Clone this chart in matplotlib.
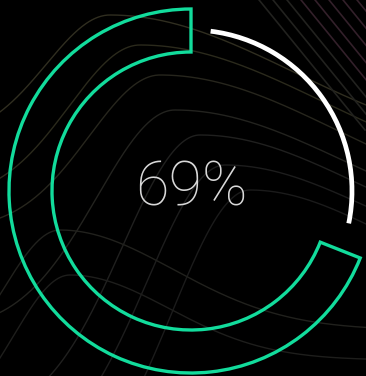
import numpy as np
import matplotlib.pyplot as plt
from matplotlib.patches import Wedge, Arc

# gauge value (percent)
value = 69
label = f"{value}%"

W, H = 366, 376
cx, cy = 191, H - 191
r_out, r_in = 182, 139
r_track = 161

fig = plt.figure(figsize=(W / 100, H / 100), dpi=100, facecolor="black")
ax = fig.add_axes([0, 0, 1, 1])
ax.set_facecolor("black")
ax.set_xlim(0, W)
ax.set_ylim(0, H)
ax.set_aspect("equal")
ax.axis("off")


def hump(x, base_l, base_r, peak_x, peak_y, s_l, s_r):
    # skewed hill in image coordinates (y grows downwards)
    left = base_l + (peak_y - base_l) * np.exp(-((x - peak_x) / s_l) ** 2)
    right = base_r + (peak_y - base_r) * np.exp(-((x - peak_x) / s_r) ** 2)
    return np.where(x < peak_x, left, right)


# faint flowing lines in the background
xs = np.linspace(-10, W + 10, 500)
bg_lines = [
    (140, 160, 110, 15, 90, 260, "#302e20"),
    (200, 190, 140, 45, 100, 260, "#2b2a1c"),
    (230, 215, 160, 75, 100, 250, "#27261d"),
    (330, 240, 175, 110, 110, 240, "#23231f"),
    (420, 255, 200, 135, 110, 220, "#20201f"),
    (460, 270, 225, 165, 110, 200, "#1d1d1d"),
    (500, 290, 250, 190, 110, 180, "#1b1b1b"),
    (380, 330, 60, 230, 80, 160, "#21211d"),
    (430, 360, 70, 275, 80, 140, "#1e1e1c"),
]
for base_l, base_r, px, py, sl, sr, col in bg_lines:
    yi = hump(xs, base_l, base_r, px, py, sl, sr)
    ax.plot(xs, H - yi, color=col, lw=1.0, zorder=0)
for k in range(8):
    x0 = 255 + k * 14
    ax.plot([x0, x0 + 110], [H + 5, H - 130],
            color="#33202a" if k > 2 else "#22221f", lw=1.2, zorder=0)

# filled portion drawn as an outlined ring segment
theta_end = 90 + value / 100 * 360
ax.add_patch(Wedge((cx, cy), r_out, 90, theta_end, width=r_out - r_in,
                   facecolor="none", edgecolor="#12dc9c", lw=2.4, zorder=2))

# remaining portion as a thin white arc with small gaps
gap_start, gap_end = 10, 7
ax.add_patch(Arc((cx, cy), 2 * r_track, 2 * r_track,
                 theta1=theta_end + gap_start, theta2=90 - gap_end + 360,
                 color="white", lw=3.4, capstyle="butt", zorder=2))

ax.text(cx, cy + 2, label, ha="center", va="center", fontsize=44,
        fontfamily="Roboto", fontweight="light", fontstyle="normal",
        color="#d8d8d8", zorder=3)

fig.savefig("out.png", dpi=100, facecolor="black")
